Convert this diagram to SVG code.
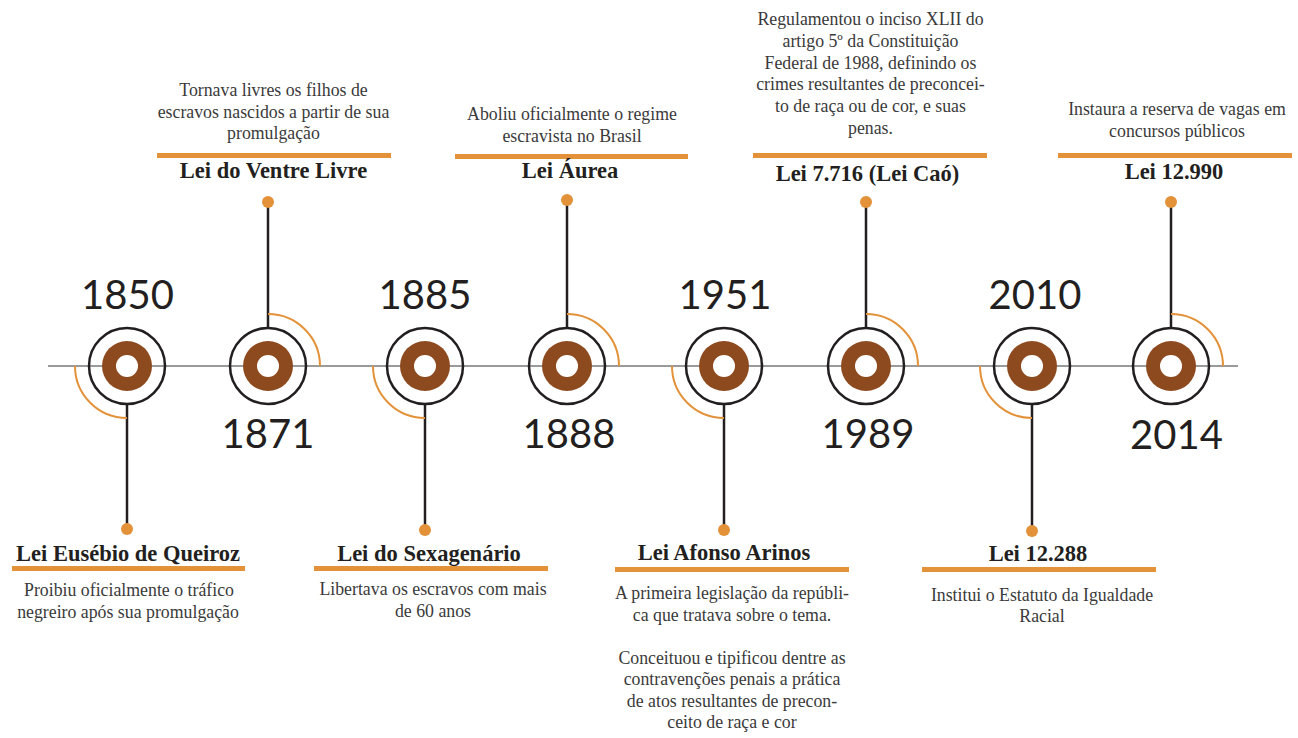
<svg xmlns="http://www.w3.org/2000/svg" width="1298" height="738" viewBox="0 0 1298 738">
<style>
.year{font-family:Lato,"Noto Sans",sans-serif;font-size:40px;fill:#231f20;text-anchor:middle}
.title{font-family:"Liberation Serif",serif;font-weight:bold;font-size:22.5px;fill:#231f20;text-anchor:middle}
.desc{font-family:"Liberation Serif",serif;font-size:17.8px;fill:#3a3a3a;text-anchor:middle}
.bar{fill:#E3923A}
.ring{fill:none;stroke:#231f20;stroke-width:2.5}
.disk{fill:#8E4A1F}
.hole{fill:#fff}
.arc{fill:none;stroke:#E3923A;stroke-width:2}
.stem{stroke:#231f20;stroke-width:2.5}
.dot{fill:#E3923A}
.axis{stroke:#9a9a9a;stroke-width:2}
</style>
<g id="connectors">
<line class="axis" x1="48" y1="366" x2="1238" y2="366"/>
<line class="stem" x1="127" y1="404" x2="127" y2="529"/><circle class="dot" cx="127" cy="529" r="6"/>
<line class="stem" x1="268" y1="328" x2="268" y2="202"/><circle class="dot" cx="268" cy="202" r="6"/>
<line class="stem" x1="425" y1="404" x2="425" y2="530"/><circle class="dot" cx="425" cy="530" r="6"/>
<line class="stem" x1="567" y1="328" x2="567" y2="200"/><circle class="dot" cx="567" cy="200" r="6"/>
<line class="stem" x1="724" y1="404" x2="724" y2="530"/><circle class="dot" cx="724" cy="530" r="6"/>
<line class="stem" x1="866" y1="328" x2="866" y2="202"/><circle class="dot" cx="866" cy="202" r="6"/>
<line class="stem" x1="1032" y1="404" x2="1032" y2="531"/><circle class="dot" cx="1032" cy="531" r="6"/>
<line class="stem" x1="1171" y1="328" x2="1171" y2="202"/><circle class="dot" cx="1171" cy="202" r="6"/>
</g>
<g id="node-1850">
<path class="arc" d="M75,366 A52,52 0 0 0 127,418"/>
<circle class="ring" cx="127" cy="366" r="38"/><circle class="disk" cx="127" cy="366" r="25"/><circle class="hole" cx="127" cy="366" r="11"/>
<text class="year" x="127.5" y="309">1850</text>
<text class="title" x="128" y="561">Lei Eusébio de Queiroz</text>
<rect class="bar" x="12" y="566" width="233" height="5"/>
<text class="desc" x="128"><tspan x="129" y="596">Proibiu oficialmente o tráfico</tspan><tspan x="128" y="617.5">negreiro após sua promulgação</tspan></text>
</g>
<g id="node-1871">
<path class="arc" d="M268,314 A52,52 0 0 1 320,366"/>
<circle class="ring" cx="268" cy="366" r="38"/><circle class="disk" cx="268" cy="366" r="25"/><circle class="hole" cx="268" cy="366" r="11"/>
<text class="year" x="268" y="448">1871</text>
<text class="desc"><tspan x="273.5" y="96">Tornava livres os filhos de</tspan><tspan x="273.5" y="117.5">escravos nascidos a partir de sua</tspan><tspan x="273.5" y="139">promulgação</tspan></text>
<rect class="bar" x="157" y="153" width="234" height="5"/>
<text class="title" x="273.5" y="178">Lei do Ventre Livre</text>
</g>
<g id="node-1885">
<path class="arc" d="M373,366 A52,52 0 0 0 425,418"/>
<circle class="ring" cx="425" cy="366" r="38"/><circle class="disk" cx="425" cy="366" r="25"/><circle class="hole" cx="425" cy="366" r="11"/>
<text class="year" x="425" y="309">1885</text>
<text class="title" x="429" y="561">Lei do Sexagenário</text>
<rect class="bar" x="314" y="566" width="234" height="5"/>
<text class="desc"><tspan x="433" y="595">Libertava os escravos com mais</tspan><tspan x="433" y="616.5">de 60 anos</tspan></text>
</g>
<g id="node-1888">
<path class="arc" d="M567,314 A52,52 0 0 1 619,366"/>
<circle class="ring" cx="567" cy="366" r="38"/><circle class="disk" cx="567" cy="366" r="25"/><circle class="hole" cx="567" cy="366" r="11"/>
<text class="year" x="569" y="448">1888</text>
<text class="desc"><tspan x="572" y="120">Aboliu oficialmente o regime</tspan><tspan x="572" y="141.5">escravista no Brasil</tspan></text>
<rect class="bar" x="455" y="154" width="233" height="5"/>
<text class="title" x="570" y="178">Lei Áurea</text>
</g>
<g id="node-1951">
<path class="arc" d="M672,366 A52,52 0 0 0 724,418"/>
<circle class="ring" cx="724" cy="366" r="38"/><circle class="disk" cx="724" cy="366" r="25"/><circle class="hole" cx="724" cy="366" r="11"/>
<text class="year" x="725" y="309">1951</text>
<text class="title" x="724" y="560">Lei Afonso Arinos</text>
<rect class="bar" x="615" y="567" width="234" height="5"/>
<text class="desc"><tspan x="732" y="599">A primeira legislação da repúbli-</tspan><tspan x="732" y="620.5">ca que tratava sobre o tema.</tspan><tspan x="732" y="663.5">Conceituou e tipificou dentre as</tspan><tspan x="732" y="685">contravenções penais a prática</tspan><tspan x="732" y="706.5">de atos resultantes de precon-</tspan><tspan x="732" y="728">ceito de raça e cor</tspan></text>
</g>
<g id="node-1989">
<path class="arc" d="M866,314 A52,52 0 0 1 918,366"/>
<circle class="ring" cx="866" cy="366" r="38"/><circle class="disk" cx="866" cy="366" r="25"/><circle class="hole" cx="866" cy="366" r="11"/>
<text class="year" x="868" y="448">1989</text>
<text class="desc"><tspan x="870.5" y="25">Regulamentou o inciso XLII do</tspan><tspan x="870.5" y="47">artigo 5º da Constituição</tspan><tspan x="870.5" y="68.5">Federal de 1988, definindo os</tspan><tspan x="870.5" y="90">crimes resultantes de preconcei-</tspan><tspan x="870.5" y="112">to de raça ou de cor, e suas</tspan><tspan x="870.5" y="134">penas.</tspan></text>
<rect class="bar" x="753" y="153" width="234" height="5"/>
<text class="title" x="867.5" y="181">Lei 7.716 (Lei Caó)</text>
</g>
<g id="node-2010">
<path class="arc" d="M980,366 A52,52 0 0 0 1032,418"/>
<circle class="ring" cx="1032" cy="366" r="38"/><circle class="disk" cx="1032" cy="366" r="25"/><circle class="hole" cx="1032" cy="366" r="11"/>
<text class="year" x="1035" y="309">2010</text>
<text class="title" x="1038" y="561">Lei 12.288</text>
<rect class="bar" x="922" y="567" width="234" height="5"/>
<text class="desc"><tspan x="1042" y="601">Institui o Estatuto da Igualdade</tspan><tspan x="1042" y="622">Racial</tspan></text>
</g>
<g id="node-2014">
<path class="arc" d="M1171,314 A52,52 0 0 1 1223,366"/>
<circle class="ring" cx="1171" cy="366" r="38"/><circle class="disk" cx="1171" cy="366" r="25"/><circle class="hole" cx="1171" cy="366" r="11"/>
<text class="year" x="1176.5" y="449">2014</text>
<text class="desc"><tspan x="1177" y="115">Instaura a reserva de vagas em</tspan><tspan x="1177" y="136.5">concursos públicos</tspan></text>
<rect class="bar" x="1058" y="153" width="234" height="5"/>
<text class="title" x="1174" y="179">Lei 12.990</text>
</g>
</svg>
